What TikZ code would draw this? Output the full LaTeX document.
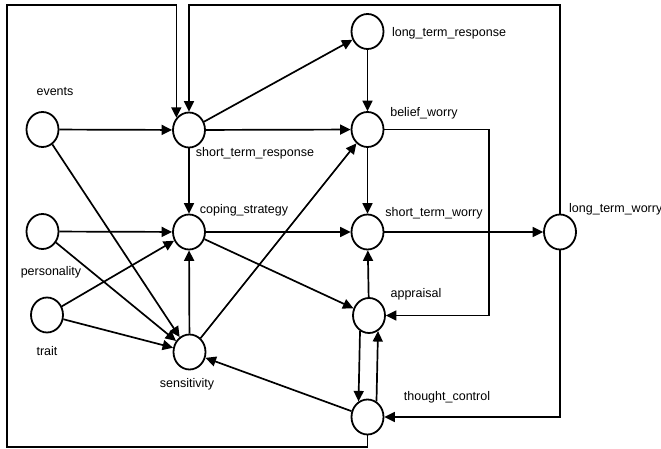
\documentclass[tikz,border=0pt]{standalone}
\usepackage{fontspec}
\setmainfont{Liberation Sans}
\usetikzlibrary{arrows.meta,shapes.geometric}
\begin{document}
\begin{tikzpicture}[x=1pt,y=-1pt,
  var/.style={ellipse,draw,line width=1.8pt,minimum width=32pt,minimum height=35pt,inner sep=0pt},
  lbl/.style={font=\fontsize{12.5}{14}\selectfont,inner sep=0pt},
  arr/.style={line width=1.7pt,-{Triangle[length=10.5pt,width=10pt]}},
  ln/.style={line width=1.7pt}]
\useasboundingbox (0,0) rectangle (661,449);
% variables
\node[var] (ev)  at (42.5,129.5) {};
\node[var] (str) at (189,130) {};
\node[var] (ltr) at (367.5,31.5) {};
\node[var] (bw)  at (367.5,129.5) {};
\node[var] (pe)  at (42.5,231.5) {};
\node[var] (cs)  at (189,232) {};
\node[var] (stw) at (367.5,232) {};
\node[var] (ltw) at (560,232) {};
\node[var] (tr)  at (47,315) {};
\node[var] (ap)  at (369,315.5) {};
\node[var] (se)  at (189.5,352) {};
\node[var] (tc)  at (367.5,417) {};
% labels
\node[lbl] (evl)  at (55,92) {events};
\node[lbl] (strl) at (255,153) {short\_term\_response};
\node[lbl] (csl)  at (244,210) {coping\_strategy};
\node[lbl] (pel)  at (51,272) {personality};
\node[lbl] (trl)  at (47,351) {trait};
\node[lbl] (sel)  at (187,384) {sensitivity};
\node[lbl] (ltrl) at (449,33) {long\_term\_response};
\node[lbl] (bwl)  at (424,113) {belief\_worry};
\node[lbl] (stwl) at (434,213) {short\_term\_worry};
\node[lbl,anchor=west] (ltwl) at (569,209) {long\_term\_worry};
\node[lbl] (apl)  at (416,294) {appraisal};
\node[lbl] (tcl)  at (447,397) {thought\_control};
% corner coordinates
\coordinate (fa) at (7,447);
\coordinate (fb) at (7,5);
\coordinate (bwx) at (489,129.5);
% connectors
\draw[arr] (ev) -- (str);
\draw[arr] (ev) -- (se);
\draw[arr] (pe) -- (cs);
\draw[arr] (pe) -- (se);
\draw[arr] (tr) -- (cs);
\draw[arr] (tr) -- (se);
\draw[arr] (str) -- (cs);
\draw[arr] (str) -- (ltr);
\draw[arr] (str) -- (bw);
\draw[arr] (se) -- (cs);
\draw[arr] (se) -- (bw);
\draw[arr] (cs) -- (stw);
\draw[arr] (cs) -- (ap);
\draw[arr] (ltr) -- (bw);
\draw[arr] (bw) -- (stw);
\draw[arr] (bw.east) -- (bwx) |- (ap.east);
\draw[arr] (stw) -- (ltw);
\draw[arr] (ap) -- (stw);
\draw[arr] (ap.240) -- (tc.120);
\draw[arr] (tc.60) -- (ap.300);
\draw[arr] (tc) -- (se);
\draw[arr] (ltw.south) |- (tc.east);
\draw[arr] (ltw.north) -- (ltw.north |- fb) -- (str.north |- fb) -- (str.north);
\draw[arr] (tc.south) -- (tc.south |- fa) -- (fa) -- (fb) -- (str.136 |- fb) -- (str.136);
\end{tikzpicture}
\end{document}
